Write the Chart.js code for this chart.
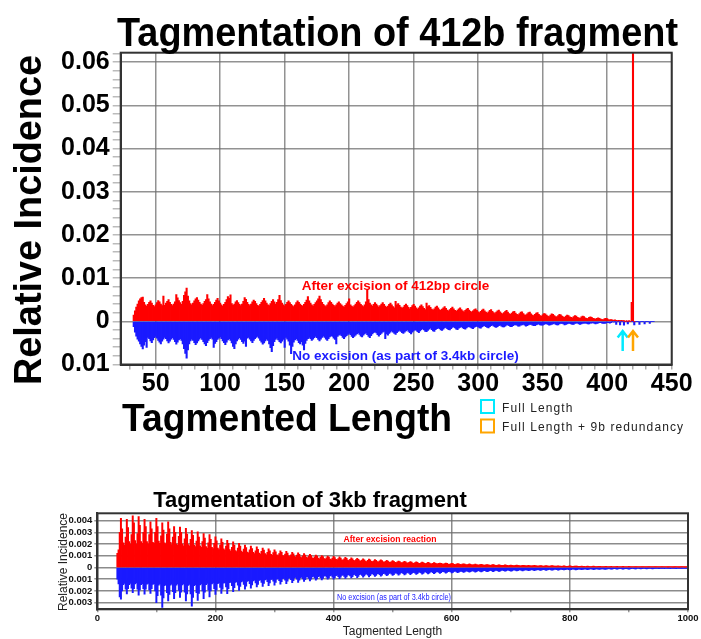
<!DOCTYPE html>
<html>
<head>
<meta charset="utf-8">
<script src="https://cdn.jsdelivr.net/npm/chart.js@4.4.0/dist/chart.umd.min.js"></script>
<style>
  body { margin: 0; background: #fff; }
  #wrap { position: relative; width: 701px; height: 639px; }
  canvas { position: absolute; left: 0; }
  #top { top: 0; }
  #bottom { top: 470px; }
</style>
</head>
<body>
<div id="wrap">
  <canvas id="top" width="701" height="470"></canvas>
  <canvas id="bottom" width="701" height="169"></canvas>
</div>
<script>
// ---- 412b fragment: one value per tagmented length, units of 0.0001 ----
const TOP_START = 33;
const TOP_RED = [
  14,24,33,40,47,52,55,56,44,38, 35,39,44,47,42,37,34,38,43,48,
  45,40,36,58,37,42,46,50,44,39, 36,40,45,62,54,48,43,39,46,60,
  68,77,58,47,41,38,42,47,52,55, 49,44,40,37,41,46,50,62,52,45,
  40,36,39,44,49,53,47,42,38,35, 39,44,50,57,53,61,41,37,40,45,
  48,43,39,36,40,46,55,51,44,39, 36,40,45,49,46,41,37,35,39,44,
  48,53,47,42,38,36,41,46,50,45, 40,44,50,60,48,42,38,35,39,44,
  47,43,39,36,34,38,43,47,44,40, 37,35,39,44,49,57,47,42,38,35,
  39,43,47,52,58,50,44,39,36,34, 38,43,47,44,40,37,34,38,42,45,
  41,38,35,33,37,41,45,52,38,35, 33,36,40,44,47,43,39,36,34,38,
  45,72,50,42,38,35,39,43,40,36, 33,36,40,43,39,35,32,35,39,42,
  38,34,31,46,38,41,37,33,30,33, 37,40,36,32,29,32,36,39,35,31,
  28,31,35,38,34,30,27,42,34,36, 32,28,26,29,33,35,31,27,25,28,
  31,34,30,26,24,27,30,33,29,25, 23,26,29,31,27,24,22,25,28,30,
  26,23,21,24,27,29,25,22,20,23, 26,28,24,21,19,22,25,27,23,20,
  18,21,24,26,22,19,17,20,23,25, 21,18,16,19,22,23,19,16,15,18,
  21,22,18,15,14,17,20,21,17,14, 13,16,19,20,16,13,12,15,18,17,
  14,12,11,14,17,16,13,11,10,13, 16,15,12,10,9,12,14,13,10,9,
  8,11,13,12,9,8,7,10,12,11, 8,7,6,9,10,9,7,6,5,7,
  8,7,5,4,4,6,7,6,4,3, 4,3,2,3,2,1,2,1,2,1,
  1,0,1,0,1,0,44,900,0
];
const TOP_BLUE = [
  12,25,34,41,46,52,58,64,55,47, 60,37,40,45,49,43,38,35,39,44,
  48,52,46,41,37,40,45,50,46,41, 38,42,47,53,48,43,40,44,52,63,
  74,85,66,52,45,41,44,49,54,50, 45,41,38,42,47,52,56,49,44,40,
  37,41,60,51,47,42,39,36,40,45, 49,54,48,43,40,44,50,58,63,52,
  45,41,38,42,47,51,46,58,39,37, 41,45,49,44,40,37,35,39,44,48,
  53,50,45,41,44,52,61,70,56,47, 42,39,43,47,50,46,42,60,37,41,
  46,55,75,58,48,43,40,44,49,52, 47,55,66,51,44,40,37,40,44,41,
  38,35,38,42,45,41,37,34,37,41, 44,40,36,33,35,39,42,52,35,32,
  30,33,37,40,36,33,30,28,31,35, 38,35,32,29,27,30,34,36,32,29,
  27,31,35,38,33,29,26,24,27,31, 34,31,28,25,23,40,29,32,28,25,
  22,25,28,30,26,23,21,23,26,28, 25,22,20,23,26,29,25,22,19,21,
  24,26,22,19,17,20,23,24,21,18, 16,19,22,23,19,17,15,17,20,21,
  18,15,14,17,19,20,17,14,13,15, 18,19,16,14,12,15,17,18,15,13,
  12,14,16,17,14,12,11,13,15,16, 13,11,10,12,14,15,12,10,9,11,
  13,14,12,10,9,11,13,13,11,9, 8,10,12,12,10,8,8,9,11,11,
  9,8,7,9,11,10,8,7,7,9, 10,10,8,7,6,8,9,9,7,6,
  6,7,9,8,7,6,5,7,8,8, 6,5,5,6,8,7,6,5,5,6,
  7,7,5,4,4,6,7,6,5,4, 4,5,6,6,4,4,3,5,6,5,
  4,3,3,4,5,5,4,3,3,4, 3,0,2,0,7,0,0,8,0,0,
  9,0,0,6,0,0,0,0,8,0, 0,0,7,0,0,0,6,0,0,0,
  5,0,0,0
];
const TOP_ARROW_X = [412, 420];

// ---- 3kb fragment: every 2nd length from 34, units of 0.00001 ----
const BOT_START = 34;
const BOT_STEP = 2;
const BOT_RED = [
  120,150,300,420,330,210,190,260,410,340, 220,200,280,440,380,230,200,290,435,360,
  220,205,300,410,350,220,200,280,390,330, 215,205,300,420,350,225,205,270,380,320,
  210,200,285,390,330,215,195,260,350,300, 200,190,265,345,300,200,185,245,335,285,
  195,185,240,315,275,190,178,225,305,260, 185,172,220,290,250,178,165,210,280,240,
  172,160,205,262,228,165,152,192,245,215, 158,148,182,232,205,152,140,172,218,192,
  145,135,165,205,182,140,128,156,192,170, 132,124,150,182,162,128,118,142,176,155,
  122,114,138,166,148,118,108,130,158,142, 112,104,126,150,134,108,100,118,142,128,
  102,96,115,138,122,99,92,108,130,116, 94,88,105,125,111,91,84,99,118,106,
  86,81,96,112,101,83,77,90,106,96, 79,74,88,102,92,76,71,83,98,88,
  72,67,80,94,84,69,64,76,90,80, 66,62,74,86,77,63,59,69,82,73,
  60,56,67,78,70,58,54,63,74,66, 55,51,61,71,64,53,49,57,67,60,
  50,47,56,64,58,48,45,52,61,55, 46,43,51,58,53,44,41,47,55,50,
  42,39,46,52,48,40,37,43,50,45, 38,36,42,47,43,36,34,39,46,41,
  35,33,38,43,39,33,31,36,41,37, 32,30,35,38,35,30,28,33,37,34,
  29,27,31,34,32,27,25,29,33,30, 26,24,28,31,28,24,23,26,30,27,
  23,22,25,28,25,22,21,24,27,24, 21,20,23,25,23,20,19,22,24,22,
  19,18,20,23,21,18,17,19,22,20, 17,16,18,21,19,16,15,17,20,18,
  15,14,16,19,17,15,14,16,18,16, 14,13,15,17,15,13,12,14,16,15,
  12,12,13,15,14,12,11,13,15,13, 11,11,12,14,12,11,10,12,13,12,
  10,10,11,13,11,10,9,11,12,11, 9,9,10,12,10,9,8,10,11,10,
  8,8,9,11,9,8,8,9,10,9, 8,7,8,10,9,7,7,8,9,8,
  7,7,8,9,8,7,6,7,9,8, 6,6,7,9,7,6,6,7,8,7,
  6,6,7,8,7,6,5,6,8,6, 5,5,6,8,6,5,5,6,7,6,
  5,5,6,7,6,5,4,5,7,5, 4,4,5,7,5,4,4,5,6,5,
  4,4,5,6
];
const BOT_BLUE = [
  100,140,250,270,200,145,135,185,225,180, 145,135,175,215,180,140,132,185,235,190,
  145,138,180,228,185,142,135,190,220,180, 144,138,200,300,240,150,140,235,340,260,
  155,145,215,285,230,150,142,205,265,215, 150,140,195,255,210,148,140,210,285,225,
  152,144,225,330,255,155,145,215,280,220, 148,140,200,265,210,145,136,190,250,200,
  140,132,180,230,190,138,130,170,220,185, 134,128,165,222,180,130,124,155,205,172,
  126,120,150,195,162,122,116,143,185,158, 118,112,137,176,148,114,108,131,165,143,
  110,105,126,162,136,106,100,120,154,131, 102,98,116,150,126,99,94,111,142,121,
  95,91,108,138,117,92,87,103,130,112, 89,85,100,126,108,86,81,96,118,103,
  83,79,93,115,100,80,75,89,108,96, 77,73,87,106,93,74,70,83,100,89,
  72,68,81,98,86,69,65,77,94,83, 67,63,75,92,80,64,60,72,88,77,
  62,59,70,86,75,60,56,67,82,72, 58,55,65,80,70,56,52,62,76,67,
  54,51,61,74,65,52,49,58,70,62, 50,47,56,68,60,48,45,54,65,57,
  46,44,52,63,56,45,42,50,60,53, 43,41,48,58,52,42,39,46,56,49,
  40,38,45,54,48,39,36,43,52,45, 37,35,41,50,44,36,34,40,48,42,
  34,33,38,46,41,33,31,37,44,39, 32,30,36,42,38,31,29,34,40,36,
  29,28,33,39,35,29,27,32,37,33, 27,26,31,36,32,27,25,29,34,31,
  25,24,28,33,30,25,23,27,31,28, 23,22,26,30,28,23,21,25,29,26,
  21,20,24,28,25,21,19,23,27,24, 19,18,22,26,23,19,18,21,25,22,
  18,17,20,24,21,17,16,19,23,20, 16,15,18,22,19,16,15,18,21,18,
  15,14,17,20,17,14,13,16,19,17, 13,13,15,18,16,13,12,15,17,15,
  12,12,14,17,15,12,11,14,16,14, 11,11,13,15,13,11,10,12,14,13,
  10,10,12,14,12,10,9,11,13,12, 9,9,11,13,11,9,8,10,12,11,
  8,8,10,12,10,8,8,9,11,10, 8,7,9,11,9,7,7,8,10,9,
  7,7,8,10,8,7,6,8,9,8, 6,6,7,9,8,6,6,7,8,7,
  5,5,6,7
];

const SANS = "'Liberation Sans', Arial, Helvetica, sans-serif";
const RED = '#ff0000';
const BLUE = '#1a1aff';

// helper for free text drawn by the plugins
function label(ctx, str, x, y, font, color, align, maxW, spacing) {
  ctx.font = font;
  ctx.fillStyle = color;
  ctx.textAlign = align || 'center';
  ctx.textBaseline = 'alphabetic';
  ctx.letterSpacing = spacing || '0px';
  if (maxW) {
    ctx.fillText(str, x, y, maxW);
  } else {
    ctx.fillText(str, x, y);
  }
  ctx.letterSpacing = '0px';
}

function signedLabel(v, digits) {
  return v === 0 ? '0' : Math.abs(v).toFixed(digits);
}

// every n-th step counts as a major tick
function isMajor(v, step, n) {
  return Math.abs(Math.round(v / step)) % n === 0;
}

function arrow(ctx, x, tip, tail, color) {
  ctx.strokeStyle = color;
  ctx.lineWidth = 2.5;
  ctx.beginPath();
  ctx.moveTo(x, tail);
  ctx.lineTo(x, tip + 1);
  ctx.moveTo(x - 5, tip + 7.5);
  ctx.lineTo(x, tip + 1);
  ctx.lineTo(x + 5, tip + 7.5);
  ctx.stroke();
}

const topDecor = {
  id: 'topDecor',
  afterDraw(chart) {
    const ctx = chart.ctx;
    const a = chart.chartArea;
    const xs = chart.scales.x;
    const ys = chart.scales.y;
    ctx.save();

    ctx.strokeStyle = '#333';
    ctx.lineWidth = 2;
    ctx.strokeRect(a.left, a.top, a.right - a.left, a.bottom - a.top);

    label(ctx, 'Tagmentation of 412b fragment', 397.5, 46, 'bold 40px ' + SANS, '#000', 'center', 561);
    label(ctx, 'Tagmented Length', 287, 431, 'bold 39px ' + SANS, '#000', 'center', 330);

    ctx.save();
    ctx.translate(41, 220);
    ctx.rotate(-Math.PI / 2);
    label(ctx, 'Relative Incidence', 0, 0, 'bold 38px ' + SANS, '#000', 'center', 330);
    ctx.restore();

    label(ctx, 'After excision of 412bp circle', 395.5, 290, 'bold 13.5px ' + SANS, RED, 'center', 193);
    label(ctx, 'No excision (as part of 3.4kb circle)', 405.5, 360, 'bold 13.5px ' + SANS, BLUE, 'center', 235);

    // arrows for full length and full length + 9b
    const tip = ys.getPixelForValue(-0.002);
    const tail = ys.getPixelForValue(-0.0069);
    arrow(ctx, xs.getPixelForValue(TOP_ARROW_X[0]), tip, tail, '#00eaff');
    arrow(ctx, xs.getPixelForValue(TOP_ARROW_X[1]), tip, tail, '#ffa500');

    // legend
    ctx.lineWidth = 2;
    ctx.strokeStyle = '#00eaff';
    ctx.strokeRect(481, 400, 13, 13);
    ctx.strokeStyle = '#ffa500';
    ctx.strokeRect(481, 419.5, 13, 13);
    label(ctx, 'Full Length', 502, 411.5, '12px ' + SANS, '#222', 'left', null, '1.1px');
    label(ctx, 'Full Length + 9b redundancy', 502, 431, '12px ' + SANS, '#222', 'left', 190, '1.1px');

    ctx.restore();
  }
};

const bottomDecor = {
  id: 'bottomDecor',
  afterDraw(chart) {
    const ctx = chart.ctx;
    const a = chart.chartArea;
    ctx.save();

    ctx.strokeStyle = '#333';
    ctx.lineWidth = 2;
    ctx.strokeRect(a.left, a.top, a.right - a.left, a.bottom - a.top);

    label(ctx, 'Tagmentation of 3kb fragment', 310, 36.7, 'bold 22px ' + SANS, '#000', 'center', 336);
    label(ctx, 'Tagmented Length', 392.5, 165, '12px ' + SANS, '#222', 'center', 100);

    ctx.save();
    ctx.translate(66.5, 92);
    ctx.rotate(-Math.PI / 2);
    label(ctx, 'Relative Incidence', 0, 0, '12px ' + SANS, '#222', 'center', 100);
    ctx.restore();

    label(ctx, 'After excision reaction', 390, 72.2, 'bold 9px ' + SANS, RED, 'center', 93);
    label(ctx, 'No excision (as part of 3.4kb circle)', 394, 130, '8.5px ' + SANS, BLUE, 'center', 114);

    ctx.restore();
  }
};

function barSet(name, values, start, step, scale, sign, color) {
  return {
    label: name,
    data: values.map((v, i) => ({ x: start + i * step, y: sign * v / scale })),
    backgroundColor: color,
    borderWidth: 0,
    grouped: false,
    barPercentage: 1,
    categoryPercentage: 1,
    inflateAmount: 0.4
  };
}

new Chart(document.getElementById('top'), {
  type: 'bar',
  data: {
    datasets: [
      barSet('After excision of 412bp circle', TOP_RED, TOP_START, 1, 1e4, 1, RED),
      barSet('No excision (as part of 3.4kb circle)', TOP_BLUE, TOP_START, 1, 1e4, -1, BLUE)
    ]
  },
  options: {
    responsive: false,
    animation: false,
    events: [],
    layout: { padding: { left: 0, top: 52.7, right: 29.3, bottom: 0 } },
    plugins: { legend: { display: false }, tooltip: { enabled: false }, title: { display: false } },
    scales: {
      x: {
        type: 'linear',
        offset: false,
        min: 22.9,
        max: 450,
        afterFit: (s) => { s.height = 105.5; },
        border: { color: '#333', width: 2 },
        grid: {
          offset: false,
          lineWidth: 1.5,
          tickLength: 5,
          tickColor: '#aaa',
          color: (c) => (c.tick && isMajor(c.tick.value, 10, 5)) ? 'rgba(110,110,110,0.75)' : 'rgba(0,0,0,0)'
        },
        ticks: {
          stepSize: 10,
          autoSkip: false,
          includeBounds: false,
          maxRotation: 0,
          padding: 0,
          color: '#000',
          font: { family: SANS, size: 25, weight: 'bold' },
          callback: (v) => isMajor(v, 10, 5) ? String(v) : ''
        }
      },
      y: {
        min: -0.01,
        max: 0.0622,
        afterFit: (s) => { s.width = 120.7; },
        border: { color: '#333', width: 2 },
        grid: {
          lineWidth: 1.5,
          tickLength: 8,
          tickColor: '#bbb',
          color: (c) => (c.tick && isMajor(c.tick.value, 0.002, 5)) ? 'rgba(110,110,110,0.75)' : 'rgba(0,0,0,0)'
        },
        ticks: {
          stepSize: 0.002,
          autoSkip: false,
          includeBounds: false,
          padding: 3,
          color: '#000',
          font: { family: SANS, size: 25, weight: 'bold' },
          callback: (v) => isMajor(v, 0.002, 5) ? signedLabel(v, 2) : ''
        }
      }
    }
  },
  plugins: [topDecor]
});

new Chart(document.getElementById('bottom'), {
  type: 'bar',
  data: {
    datasets: [
      barSet('After excision reaction', BOT_RED, BOT_START, BOT_STEP, 1e5, 1, RED),
      barSet('No excision (as part of 3.4kb circle)', BOT_BLUE, BOT_START, BOT_STEP, 1e5, -1, BLUE)
    ]
  },
  options: {
    responsive: false,
    animation: false,
    events: [],
    layout: { padding: { left: 0, top: 43.3, right: 13, bottom: 0 } },
    plugins: { legend: { display: false }, tooltip: { enabled: false }, title: { display: false } },
    scales: {
      x: {
        type: 'linear',
        offset: false,
        min: 0,
        max: 1000,
        afterFit: (s) => { s.height = 29.7; },
        border: { color: '#333', width: 2 },
        grid: {
          offset: false,
          lineWidth: 1.5,
          tickLength: 3,
          tickColor: '#999',
          color: (c) => (c.tick && isMajor(c.tick.value, 100, 2)) ? 'rgba(110,110,110,0.8)' : 'rgba(0,0,0,0)'
        },
        ticks: {
          stepSize: 100,
          autoSkip: false,
          maxRotation: 0,
          padding: 0,
          color: '#111',
          font: { family: SANS, size: 9.5, weight: 'bold' },
          callback: (v) => isMajor(v, 100, 2) ? String(v) : ''
        }
      },
      y: {
        min: -0.00357,
        max: 0.00463,
        afterFit: (s) => { s.width = 97.3; },
        border: { color: '#333', width: 2 },
        grid: {
          lineWidth: 1.5,
          tickLength: 3,
          tickColor: '#999',
          color: 'rgba(110,110,110,0.8)'
        },
        ticks: {
          stepSize: 0.001,
          autoSkip: false,
          includeBounds: false,
          padding: 2,
          color: '#111',
          font: { family: SANS, size: 9.5, weight: 'bold' },
          callback: (v) => signedLabel(v, 3)
        }
      }
    }
  },
  plugins: [bottomDecor]
});
</script>
</body>
</html>
